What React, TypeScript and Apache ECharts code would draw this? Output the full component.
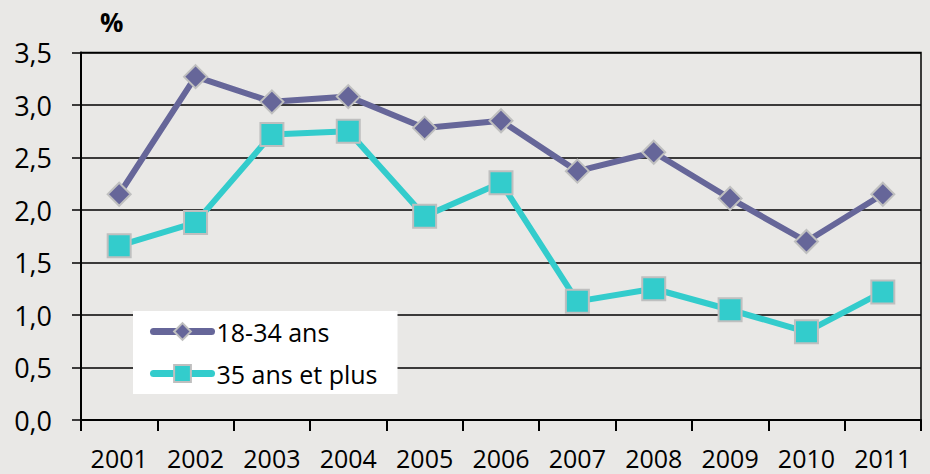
import React, { useEffect, useRef } from "react";
import * as echarts from "echarts";

const years = ["2001", "2002", "2003", "2004", "2005", "2006", "2007", "2008", "2009", "2010", "2011"];
const young = [2.15, 3.27, 3.03, 3.08, 2.78, 2.85, 2.37, 2.55, 2.11, 1.7, 2.15];
const older = [1.66, 1.88, 2.72, 2.75, 1.94, 2.26, 1.13, 1.25, 1.05, 0.84, 1.22];
const seriesNames = ["18-34 ans", "35 ans et plus"];
const unitLabel = "%";

const FONT = "'Open Sans', 'Liberation Sans', sans-serif";

export default function App() {
  const ref = useRef<HTMLDivElement>(null);
  useEffect(() => {
    if (!ref.current) return;
    const chart = echarts.init(ref.current, null, { renderer: "svg" });
    chart.setOption({
      animation: false,
      backgroundColor: "#e9e8e6",
      textStyle: { fontFamily: FONT },
      grid: {
        left: 81,
        right: 9,
        top: 52.5,
        bottom: 54,
        show: true,
        borderColor: "#000",
        borderWidth: 1.5,
        backgroundColor: "transparent",
      },
      graphic: [
        {
          type: "text",
          left: 100,
          top: 9,
          style: { text: unitLabel, fontFamily: FONT, fontWeight: "bold", fontSize: 26, fill: "#000" },
        },
      ],
      legend: {
        data: seriesNames,
        orient: "vertical",
        left: 133,
        top: 311,
        backgroundColor: "#ffffff",
        padding: [8, 20, 8, 17],
        itemWidth: 58,
        itemHeight: 21,
        itemGap: 17,
        textStyle: { fontFamily: FONT, fontSize: 25, color: "#000" },
        lineStyle: { width: 7, cap: "round" },
      },
      xAxis: {
        type: "category",
        data: years,
        boundaryGap: true,
        axisLine: { lineStyle: { color: "#000", width: 2 } },
        axisTick: { show: true, length: 11, interval: 0, lineStyle: { color: "#000", width: 2 } },
        axisLabel: { fontFamily: FONT, fontSize: 25, color: "#000", margin: 25, interval: 0 },
        splitLine: { show: false },
      },
      yAxis: {
        type: "value",
        min: 0,
        max: 3.5,
        interval: 0.5,
        axisLine: { show: true, lineStyle: { color: "#000", width: 2 } },
        axisTick: { show: true, length: 9, lineStyle: { color: "#000", width: 1.5 } },
        axisLabel: {
          fontFamily: FONT,
          fontSize: 27,
          color: "#000",
          margin: 29,
          formatter: (v: number) => v.toFixed(1).replace(".", ","),
        },
        splitLine: { show: true, lineStyle: { color: "#000", width: 1.5 } },
      },
      series: [
        {
          name: seriesNames[0],
          type: "line",
          data: young,
          symbol: "diamond",
          symbolSize: 23,
          lineStyle: { color: "#666699", width: 6 },
          itemStyle: { color: "#666699", borderColor: "#bfbfbf", borderWidth: 2 },
          z: 3,
        },
        {
          name: seriesNames[1],
          type: "line",
          data: older,
          symbol: "rect",
          symbolSize: 23,
          lineStyle: { color: "#33cccc", width: 6 },
          itemStyle: { color: "#33cccc", borderColor: "#bfbfbf", borderWidth: 2 },
          z: 4,
        },
      ],
    });
    return () => chart.dispose();
  }, []);
  return (
    <div
      ref={ref}
      style={{ position: "fixed", left: 0, top: 0, width: 930, height: 474 }}
    />
  );
}
